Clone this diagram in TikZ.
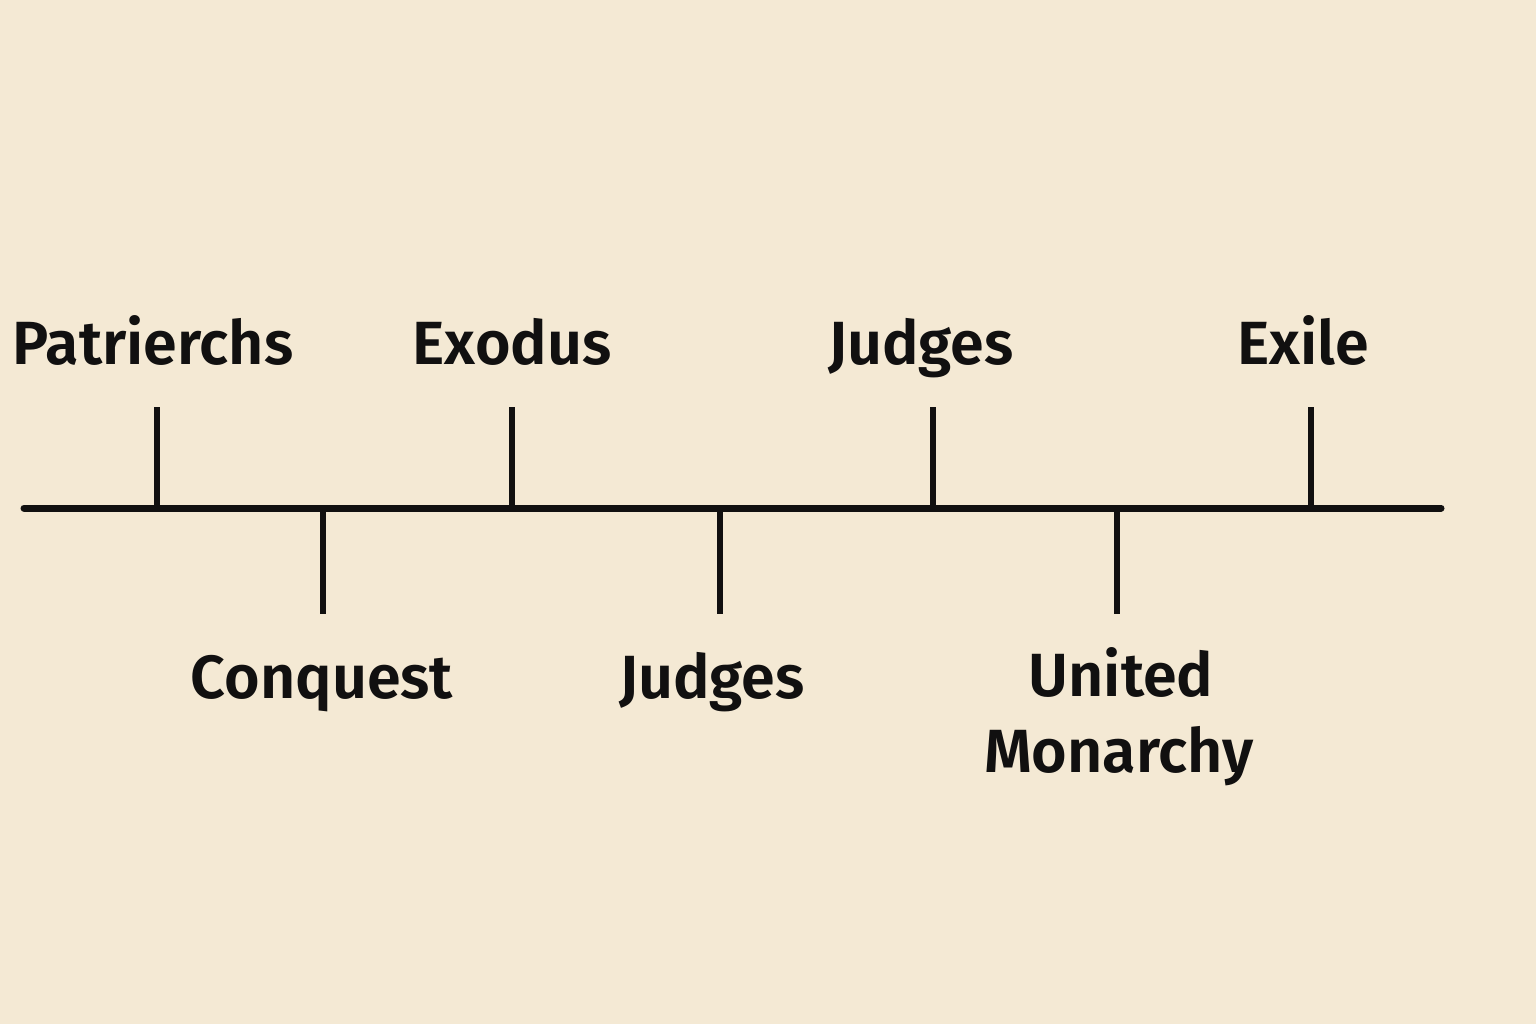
\documentclass[tikz,border=0pt]{standalone}
\usepackage{fontspec}
\setmainfont{Fira Sans}[UprightFont=* Medium,BoldFont=* SemiBold]
\definecolor{paper}{HTML}{F4E9D4}
\definecolor{ink}{HTML}{111010}
\begin{document}
\begin{tikzpicture}[x=1pt,y=-1pt,
  lbl/.style={text=ink,font=\fontsize{61}{74}\selectfont\bfseries,inner sep=0pt,anchor=base,align=center},
  tick/.style={draw=ink,line width=6pt},
  axis/.style={draw=ink,line width=7pt,line cap=round}]
\fill[paper] (0,0) rectangle (1536,1024);
\useasboundingbox (0,0) rectangle (1536,1024);
% axis
\coordinate (L) at (24,508);
\coordinate (R) at (1441,508);
\draw[axis] (L) -- (R);
% ticks up
\foreach \n/\x in {t1/157,t3/512,t5/933,t7/1311}{
  \coordinate (\n top) at (\x,407);
  \coordinate (\n base) at (\x,508);
  \draw[tick] (\n base) -- (\n top);
}
% ticks down
\foreach \n/\x in {t2/323,t4/720,t6/1117}{
  \coordinate (\n bot) at (\x,614);
  \coordinate (\n base) at (\x,508);
  \draw[tick] (\n base) -- (\n bot);
}
% labels
\node[lbl] (patr) at (153,364) {Patrierchs};
\node[lbl] (exod) at (512,364) {Exodus};
\node[lbl] (judg1) at (921,364) {Judges};
\node[lbl] (exil) at (1303,364) {Exile};
\node[lbl] (conq) at (322,698) {Conquest};
\node[lbl] (judg2) at (712,698) {Judges};
\node[lbl] (unit) at (1121,696) {United};
\node[lbl] (mona) at (1119,772) {Monarchy};
\end{tikzpicture}
\end{document}
